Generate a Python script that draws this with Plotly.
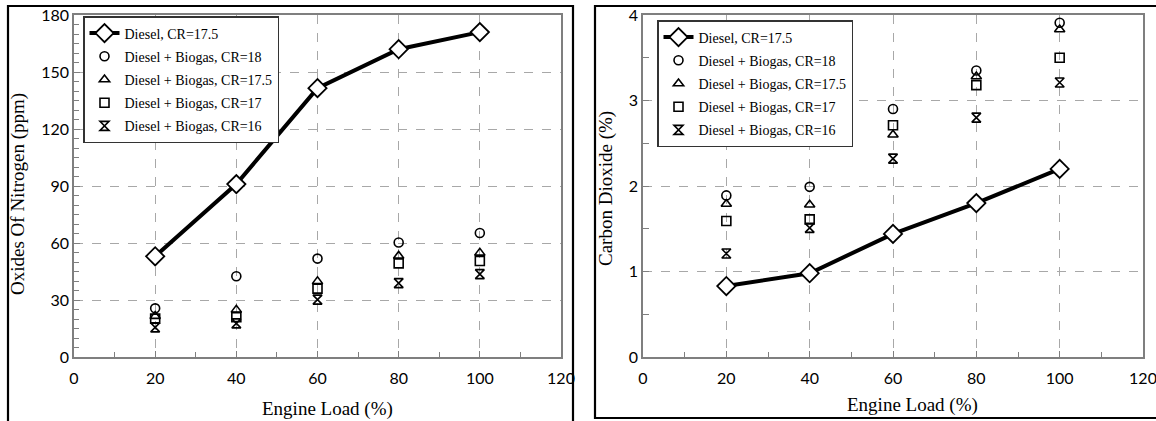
import plotly.graph_objects as go
from plotly.subplots import make_subplots

load = [20, 40, 60, 80, 100]

# Oxides of Nitrogen (ppm)
nox_diesel = [53, 91, 141.5, 162, 171]
nox_cr18 = [25.6, 42.5, 51.8, 60.3, 65.3]
nox_cr175 = [21.5, 24.8, 39.8, 53.2, 54.8]
nox_cr17 = [20.2, 21.0, 36.0, 49.3, 50.5]
nox_cr16 = [15.6, 17.7, 30.2, 38.9, 43.6]

# Carbon Dioxide (%)
co2_diesel = [0.83, 0.98, 1.44, 1.80, 2.20]
co2_cr18 = [1.89, 1.99, 2.90, 3.35, 3.91]
co2_cr175 = [1.79, 1.78, 2.60, 3.28, 3.83]
co2_cr17 = [1.59, 1.61, 2.71, 3.18, 3.50]
co2_cr16 = [1.21, 1.51, 2.32, 2.80, 3.21]

names = ["Diesel, CR=17.5", "Diesel + Biogas, CR=18", "Diesel + Biogas, CR=17.5",
         "Diesel + Biogas, CR=17", "Diesel + Biogas, CR=16"]
symbols = ["circle-open", "triangle-up-open", "square-open", "hourglass-open"]
x_title = "Engine Load (%)"
y_titles = ["Oxides Of Nitrogen (ppm)", "Carbon Dioxide (%)"]

W, H = 1156, 421
def px(x):
    return x / W
def py(y):
    return 1 - y / H

fig = make_subplots(rows=1, cols=2)

SERIF = "Liberation Serif, Times New Roman, serif"
SANS = "Lato, Calibri, sans-serif"

def add_panel(col, diesel, series, legend):
    fig.add_trace(go.Scatter(
        x=load, y=diesel, name=names[0], mode="lines+markers",
        line=dict(color="black", width=4),
        marker=dict(symbol="diamond", size=14, color="white",
                    line=dict(color="black", width=1.8)),
        legend=legend, legendgroup=legend + "0"), row=1, col=col)
    for i, (vals, sym) in enumerate(zip(series, symbols)):
        fig.add_trace(go.Scatter(
            x=load, y=vals, name=names[i + 1], mode="markers",
            marker=dict(symbol=sym, size=9, color="black",
                        line=dict(color="black", width=1.6)),
            legend=legend, legendgroup=legend + str(i + 1)), row=1, col=col)

add_panel(1, nox_diesel, [nox_cr18, nox_cr175, nox_cr17, nox_cr16], "legend")
add_panel(2, co2_diesel, [co2_cr18, co2_cr175, co2_cr17, co2_cr16], "legend2")

axis_common = dict(
    automargin=False,
    showline=True, linecolor="#7f7f7f", linewidth=1.5, mirror=True,
    ticks="inside", ticklen=6, tickcolor="#7f7f7f", tickwidth=1.2,
    showgrid=True, gridcolor="#a8a8a8", griddash="dash", gridwidth=1,
    zeroline=False, tickfont=dict(family=SANS, size=16, color="black"),
    ticklabeloverflow="allow",
)

xdom1 = [px(74), px(561)]
xdom2 = [px(643), px(1143)]
ydom = [py(357), py(15)]

fig.update_xaxes(**axis_common, range=[0, 120], dtick=20, tick0=0,
                 minor=dict(dtick=10, ticks="inside", ticklen=5, tickcolor="#7f7f7f", showgrid=False),
                 ticklabelstandoff=6)
fig.update_xaxes(domain=xdom1, row=1, col=1)
fig.update_xaxes(domain=xdom2, row=1, col=2)

fig.update_yaxes(**axis_common, ticklabelstandoff=0)
fig.update_yaxes(domain=ydom, range=[0, 180], dtick=30, tick0=0,
                 minor=dict(dtick=5, ticks="inside", ticklen=5, tickcolor="#7f7f7f", showgrid=False),
                 row=1, col=1)
fig.update_yaxes(domain=ydom, range=[0, 4], dtick=1, tick0=0,
                 minor=dict(dtick=0.5, ticks="inside", ticklen=6, tickcolor="#7f7f7f", showgrid=False),
                 row=1, col=2)

# axis titles (placed as in the original figure)
title_font = dict(family=SERIF, size=19, color="black")
for xc, yc in [(327, 409), (912, 405)]:
    fig.add_annotation(text=x_title, xref="paper", yref="paper", x=px(xc), y=py(yc),
                       xanchor="center", yanchor="middle", showarrow=False, font=title_font)
for (xc, yc), t in zip([(18, 194), (606, 189)], y_titles):
    fig.add_annotation(text=t, xref="paper", yref="paper", x=px(xc), y=py(yc),
                       xanchor="center", yanchor="middle", showarrow=False,
                       textangle=-90, font=title_font)

legend_common = dict(
    bgcolor="white", bordercolor="#333333", borderwidth=1.5,
    font=dict(family=SERIF, size=14, color="black"),
    xanchor="left", yanchor="top", tracegroupgap=2,
)
fig.update_layout(
    legend=dict(**legend_common, x=px(83), y=py(16)),
    legend2=dict(**legend_common, x=px(657), y=py(20)),
)

# outer black frames around each panel
fig.add_shape(type="rect", xref="paper", yref="paper",
              x0=px(8), x1=px(573), y0=py(424), y1=py(6),
              line=dict(color="black", width=2.2), fillcolor="rgba(0,0,0,0)", layer="below")
fig.add_shape(type="rect", xref="paper", yref="paper",
              x0=px(595), x1=px(1166), y0=py(418), y1=py(6),
              line=dict(color="black", width=2.2), fillcolor="rgba(0,0,0,0)", layer="below")

fig.update_layout(
    width=W, height=H, margin=dict(l=0, r=0, t=0, b=0, autoexpand=False),
    paper_bgcolor="white", plot_bgcolor="white",
    showlegend=True,
)

fig.write_html("out.html", config={"displayModeBar": False},
               post_script="document.body.style.margin='0';document.body.style.overflow='hidden';")
